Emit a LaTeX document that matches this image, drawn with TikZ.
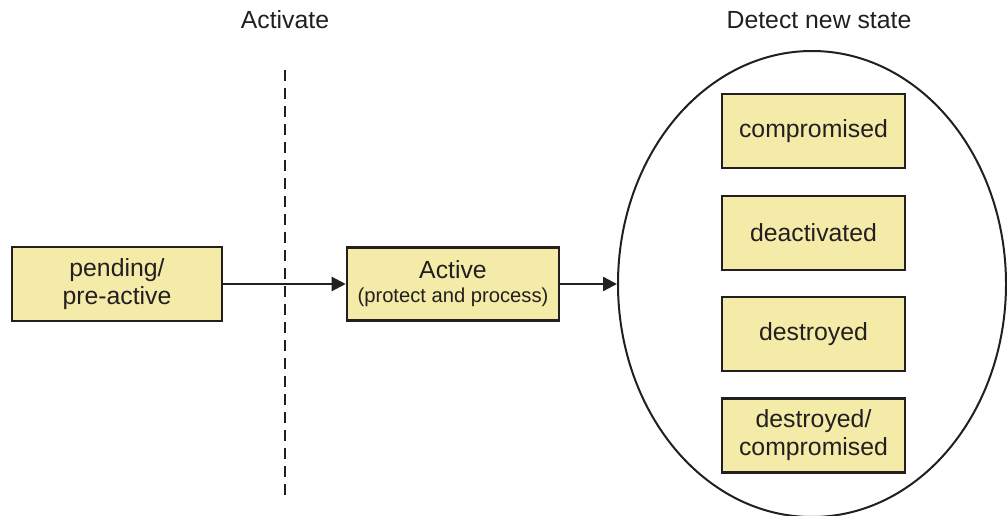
\documentclass[tikz,border=0pt]{standalone}
\usepackage{fontspec}
\setmainfont{Liberation Sans}
\usetikzlibrary{shapes.geometric,arrows.meta}
\definecolor{txt}{HTML}{231F20}
\definecolor{boxfill}{HTML}{F5EBA8}
\begin{document}
\begin{tikzpicture}[x=1pt,y=-1pt,
  statebox/.style={draw=txt,fill=boxfill,line width=2.6pt,inner sep=0pt,align=center,text=txt,
    font=\fontsize{24.8}{28}\selectfont},
  heading/.style={text=txt,font=\fontsize{24.8}{28}\selectfont,inner sep=0pt},
  arr/.style={draw=txt,line width=2.4pt,-{Triangle[length=14pt,width=14pt]}}]
\useasboundingbox (0,0) rectangle (1007,516);
\node[heading] (hact) at (285,20) {Activate};
\node[heading] (hdet) at (819,20) {Detect new state};
\coordinate (dtop) at (285,70);
\coordinate (dbot) at (285,500);
\draw[txt,line width=2.4pt,dash pattern=on 11pt off 7pt] (dtop) -- (dbot);
\node[statebox,minimum width=210pt,minimum height=74pt] (pend) at (117,284) {pending/\\pre-active};
\node[statebox,minimum width=212pt,minimum height=73pt] (act) at (453,284) {Active\\[-4pt]{\fontsize{20.2}{22}\selectfont(protect and process)}};
\node[draw=txt,line width=2pt,ellipse,minimum width=388pt,minimum height=466pt,inner sep=0pt] (ell) at (812,284) {};
\node[statebox,minimum width=183pt,minimum height=74pt] (comp) at (813.5,131) {compromised};
\node[statebox,minimum width=183pt,minimum height=74pt] (deact) at (813.5,233) {deactivated};
\node[statebox,minimum width=183pt,minimum height=74pt] (destr) at (813.5,334) {destroyed};
\node[statebox,minimum width=183pt,minimum height=74pt] (dc) at (813.5,435.5) {destroyed/\\compromised};
\draw[arr] (pend.east) -- (act.west);
\draw[arr] (act.east) -- (ell.west);
\end{tikzpicture}
\end{document}
